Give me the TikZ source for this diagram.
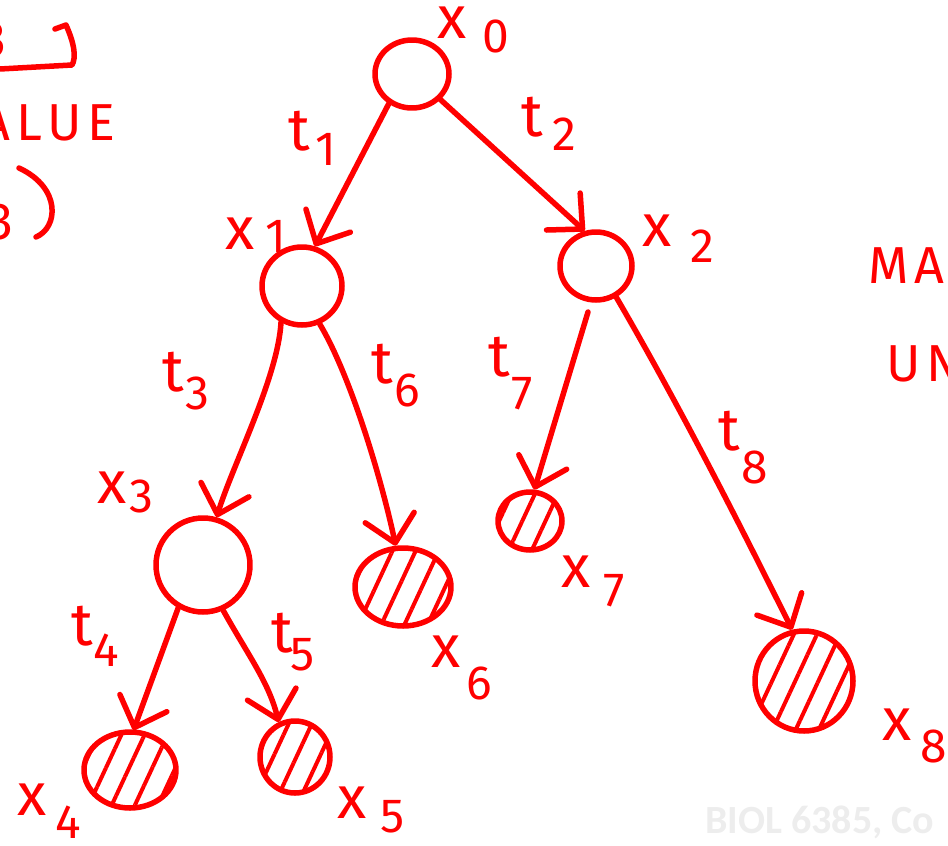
\documentclass[tikz,border=0pt]{standalone}
\usepackage{fontspec}
\setmainfont{Fira Sans}
\newfontfamily\wmfont{Carlito}
\usetikzlibrary{shapes.geometric,arrows.meta,patterns.meta}
\newcommand{\hlab}[4]{#1\rlap{\smash{\hspace{#3pt}\raisebox{-#4pt}{\fontsize{48}{48}\selectfont #2}}}}
\begin{document}
\begin{tikzpicture}[x=1pt,y=-1pt,
  ink/.style={draw=red,line width=5.5pt,line cap=round,line join=round},
  state/.style={ink,ellipse,inner sep=0pt},
  leaf/.style={state,pattern={Lines[angle=65,distance=21pt,line width=4pt]},pattern color=red},
  edge/.style={ink,-{Straight Barb[round,length=26pt,width=50pt]}},
  lbl/.style={text=red,inner sep=0pt,font=\fontsize{60}{60}\selectfont},
  note/.style={text=red,inner sep=0pt,font=\fontsize{52}{52}\selectfont\addfontfeature{LetterSpace=12}},
]
\useasboundingbox (0,0) rectangle (948,846);
\clip (0,0) rectangle (948,846);

% watermark
\node[text=black!7,font=\wmfont\bfseries\fontsize{40}{40}\selectfont,anchor=base west,inner sep=0pt] (wm) at (705,833) {BIOL 6385, Co};

% states
\node[state,minimum width=74pt,minimum height=68pt] (n0) at (412,74) {};
\node[state,minimum width=80pt,minimum height=78pt] (n1) at (302,286) {};
\node[state,minimum width=72pt,minimum height=68pt] (n2) at (596,266) {};
\node[state,minimum width=94pt,minimum height=94pt] (n3) at (203,565) {};
\node[leaf,minimum width=92pt,minimum height=76pt] (n4) at (130,770) {};
\node[leaf,minimum width=70pt,minimum height=72pt] (n5) at (295,757) {};
\node[leaf,minimum width=96pt,minimum height=78pt] (n6) at (403,587) {};
\node[leaf,minimum width=64pt,minimum height=58pt] (n7) at (530,521) {};
\node[leaf,minimum width=98pt,minimum height=100pt] (n8) at (804,681) {};

% transitions
\draw[edge] (n0.232) -- (n1.72);
\draw[edge] (n0.318) -- (n2.108);
\draw[edge] (n1.240) .. controls +(-3,55) and +(15,-50) .. (n3.74);
\draw[edge] (n1.295) .. controls +(30,50) and +(-15,-70) .. (n6.100);
\draw[edge,shorten <=10pt] (n2.262) -- (n7.82);
\draw[edge] (n2.303) .. controls +(70,120) and +(-40,-80) .. (n8.103);
\draw[edge] (n3.240) -- (n4.85);
\draw[edge] (n3.294) .. controls +(25,45) and +(-10,-40) .. (n5.115);

% state labels
\node[lbl] (lx0) at (452,23) {\hlab{x}{0}{16}{14}};
\node[lbl] (lx1) at (240,234) {\hlab{x}{1}{11}{3}};
\node[lbl] (lx2) at (657,231) {\hlab{x}{2}{19}{16}};
\node[lbl] (lx3) at (112,488) {\hlab{x}{3}{3}{9}};
\node[lbl] (lx4) at (32,800) {\hlab{x}{4}{9}{23}};
\node[lbl] (lx5) at (352,803) {\hlab{x}{5}{14}{14}};
\node[lbl] (lx6) at (446,652) {\hlab{x}{6}{6}{32}};
\node[lbl] (lx7) at (576,572) {\hlab{x}{7}{13}{19}};
\node[lbl] (lx8) at (897,725) {\hlab{x}{8}{9}{22}};

% transition labels
\node[lbl] (lt1) at (299,131) {\hlab{t}{1}{6}{15}};
\node[lbl] (lt2) at (532,117) {\hlab{t}{2}{10}{14}};
\node[lbl] (lt3) at (173,372) {\hlab{t}{3}{2}{18}};
\node[lbl] (lt4) at (82,626) {\hlab{t}{4}{1}{21}};
\node[lbl] (lt5) at (282,633) {\hlab{t}{5}{-2}{18}};
\node[lbl] (lt6) at (382,364) {\hlab{t}{6}{2}{23}};
\node[lbl] (lt7) at (499,357) {\hlab{t}{7}{2}{33}};
\node[lbl] (lt8) at (729,431) {\hlab{t}{8}{2}{33}};

% partial notes at the edges
\node[note,anchor=east] (na) at (7,40) {3};
\draw[ink] (55,29) -- (66,25) .. controls (75,45) and (76,58) .. (72,65) -- (0,69);
\node[note,anchor=east] (nv) at (116,123) {VALUE};
\node[note,anchor=east] (nb) at (14,222) {3};
\draw[ink] (19,168) .. controls (62,188) and (58,228) .. (36,237);
\node[note,anchor=west] (nm) at (868,266) {MA};
\node[note,anchor=west] (nu) at (886,364) {UN};
\end{tikzpicture}
\end{document}
